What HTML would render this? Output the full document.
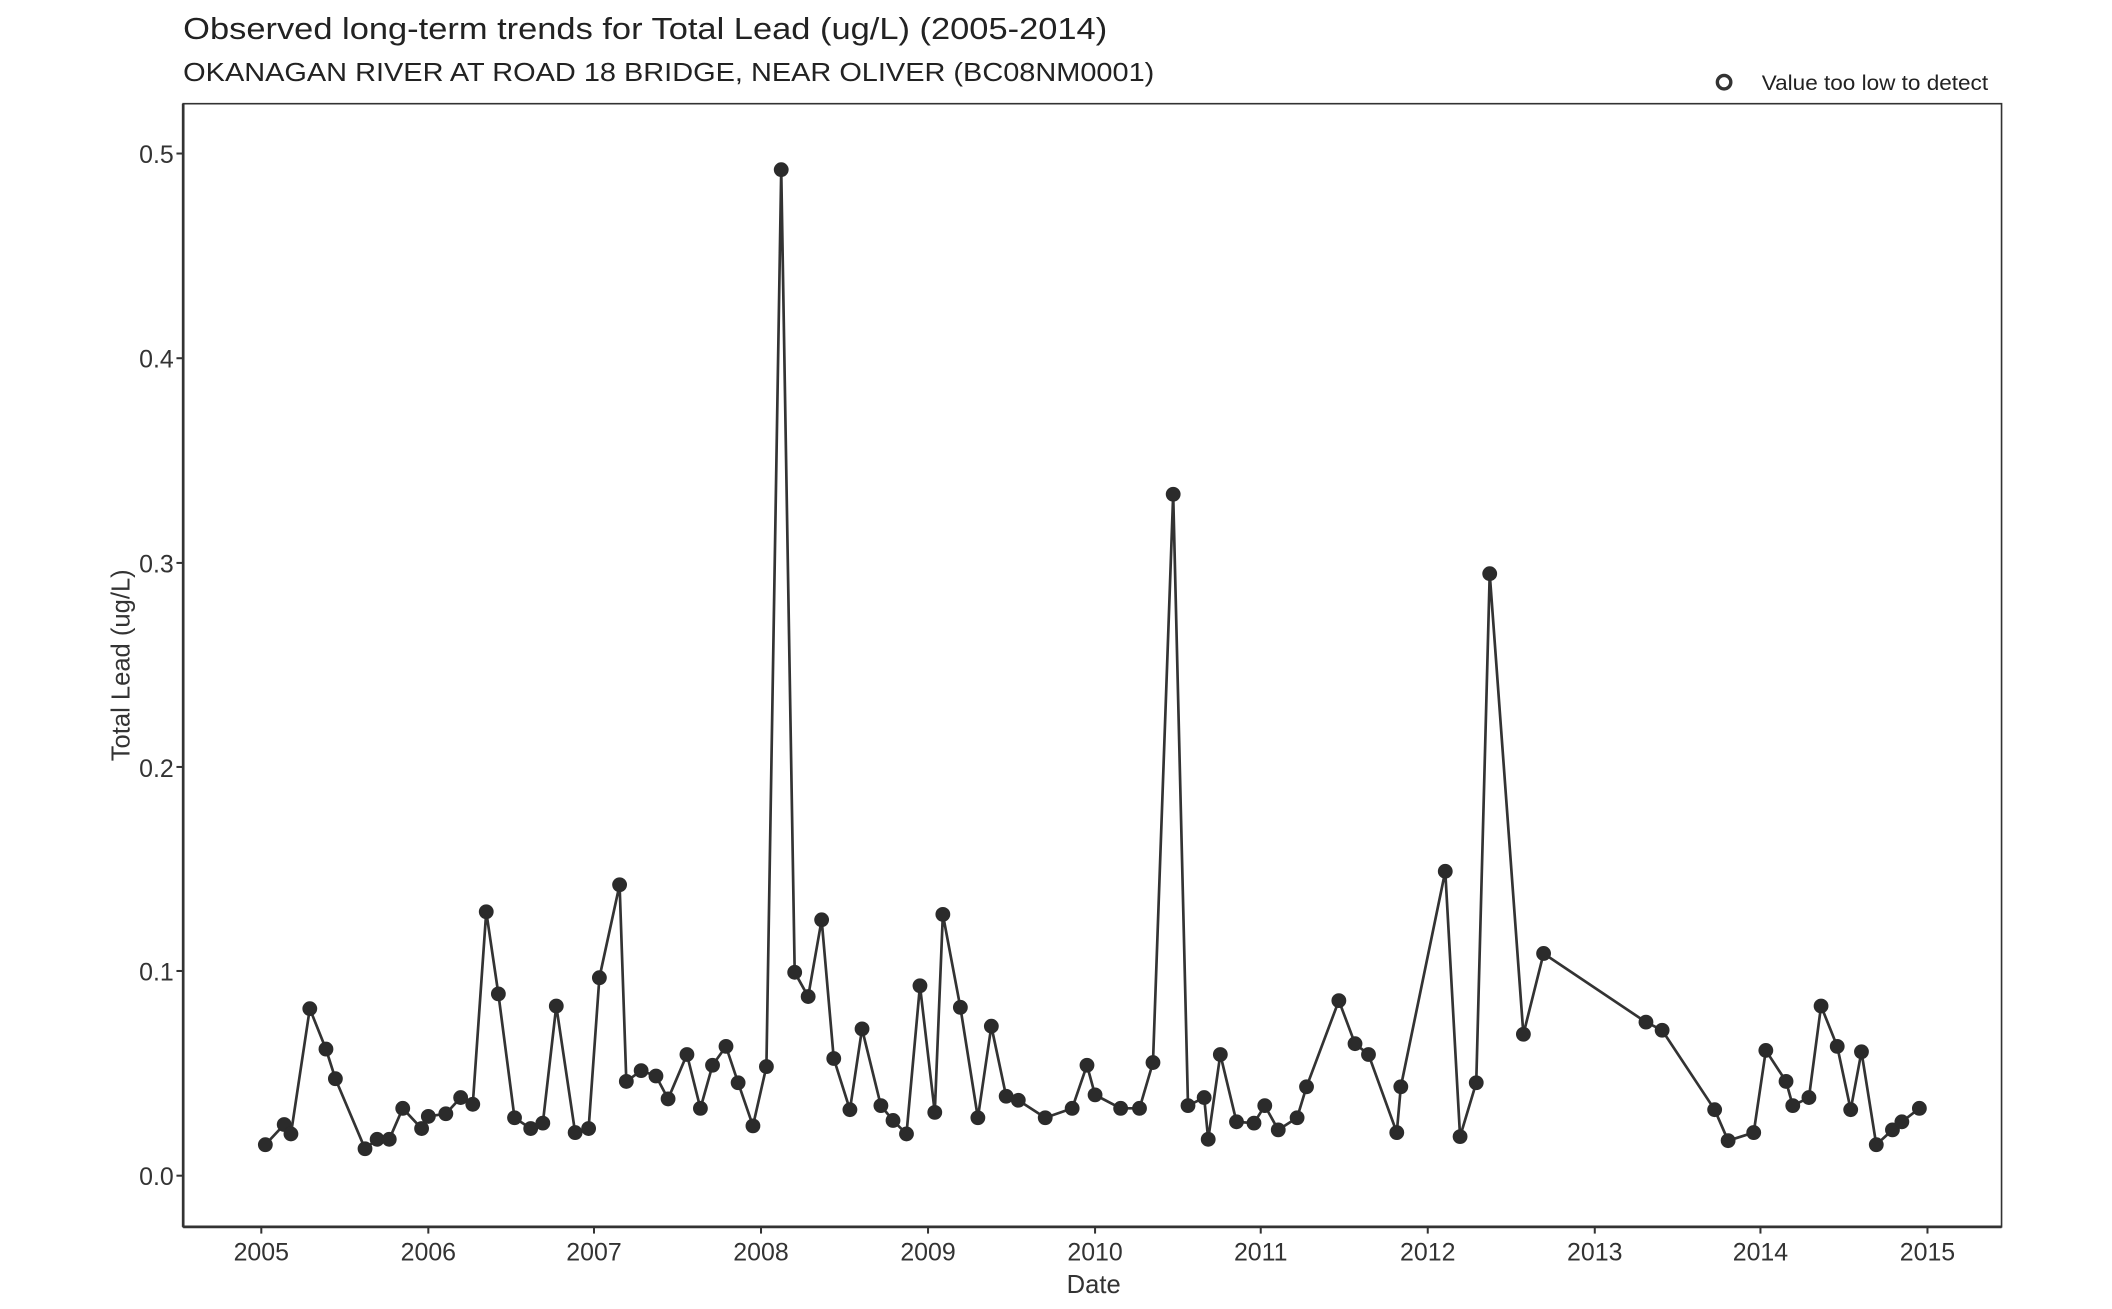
<!DOCTYPE html>
<html><head><meta charset="utf-8"><style>html,body{margin:0;padding:0;background:#fff}svg{display:block}</style></head>
<body>
<svg width="2112" height="1309" viewBox="0 0 1568 972" preserveAspectRatio="none" xmlns="http://www.w3.org/2000/svg" font-family="Liberation Sans, Arial, sans-serif">
<rect width="1568" height="972" fill="#fff"/>
<text x="136" y="29" font-size="23" fill="#222" textLength="686" lengthAdjust="spacingAndGlyphs">Observed long-term trends for Total Lead (ug/L) (2005-2014)</text>
<text x="136" y="60" font-size="19" fill="#222" textLength="721" lengthAdjust="spacingAndGlyphs">OKANAGAN RIVER AT ROAD 18 BRIDGE, NEAR OLIVER (BC08NM0001)</text>
<circle cx="1280" cy="61" r="5" fill="none" stroke="#333" stroke-width="2.5"/>
<text x="1308" y="67" font-size="16" fill="#222" textLength="168" lengthAdjust="spacingAndGlyphs">Value too low to detect</text>
<rect x="136" y="77" width="1350" height="834" fill="none" stroke="#333" stroke-width="1.2"/>
<line x1="136" y1="77" x2="136" y2="911" stroke="#333" stroke-width="2"/>
<line x1="136" y1="911" x2="1486" y2="911" stroke="#333" stroke-width="2"/>
<g stroke="#333" stroke-width="1.5">
<line x1="131" y1="873" x2="136" y2="873"/><line x1="131" y1="721" x2="136" y2="721"/><line x1="131" y1="569.5" x2="136" y2="569.5"/><line x1="131" y1="418" x2="136" y2="418"/><line x1="131" y1="266" x2="136" y2="266"/><line x1="131" y1="114" x2="136" y2="114"/>
</g>
<g font-size="18.5" fill="#333" text-anchor="end">
<text x="129" y="880">0.0</text><text x="129" y="728">0.1</text><text x="129" y="577">0.2</text><text x="129" y="425">0.3</text><text x="129" y="273">0.4</text><text x="129" y="121">0.5</text>
</g>
<g stroke="#333" stroke-width="1.5">
<line x1="194" y1="911" x2="194" y2="916"/><line x1="318" y1="911" x2="318" y2="916"/><line x1="441" y1="911" x2="441" y2="916"/><line x1="565" y1="911" x2="565" y2="916"/><line x1="689" y1="911" x2="689" y2="916"/><line x1="813" y1="911" x2="813" y2="916"/><line x1="936" y1="911" x2="936" y2="916"/><line x1="1060" y1="911" x2="1060" y2="916"/><line x1="1184" y1="911" x2="1184" y2="916"/><line x1="1307" y1="911" x2="1307" y2="916"/><line x1="1431" y1="911" x2="1431" y2="916"/>
</g>
<g font-size="18.5" fill="#333" text-anchor="middle">
<text x="194" y="936">2005</text><text x="318" y="936">2006</text><text x="441" y="936">2007</text><text x="565" y="936">2008</text><text x="689" y="936">2009</text><text x="813" y="936">2010</text><text x="936" y="936">2011</text><text x="1060" y="936">2012</text><text x="1184" y="936">2013</text><text x="1307" y="936">2014</text><text x="1431" y="936">2015</text>
</g>
<text x="812" y="960" font-size="19" fill="#333" text-anchor="middle">Date</text>
<text transform="translate(96,494) rotate(-90)" font-size="19" fill="#333" text-anchor="middle">Total Lead (ug/L)</text>
<polyline fill="none" stroke="#333" stroke-width="2" stroke-linejoin="round" points="197,850 211,835 216,842 230,749 242,779 249,801 271,853 280,846 289,846 299,823 313,838 318,829 331,827 342,815 351,820 361,677 370,738 382,830 394,838 403,834 413,747 427,841 437,838 445,726 460,657 465,803 476,795 487,799 496,816 510,783 520,823 529,791 539,777 548,804 559,836 569,792 580,126 590,722 600,740 610,683 619,786 631,824 640,764 654,821 663,832 673,842 683,732 694,826 700,679 713,748 726,830 736,762 747,814 756,817 776,830 796,823 807,791 813,813 832,823 846,823 856,789 871,367 882,821 894,815 897,846 906,783 918,833 931,834 939,821 949,839 963,830 970,807 994,743 1006,775 1016,783 1037,841 1040,807 1073,647 1084,844 1096,804 1106,426 1131,768 1146,708 1222,759 1234,765 1273,824 1283,847 1302,841 1311,780 1326,803 1331,821 1343,815 1352,747 1364,777 1374,824 1382,781 1393,850 1405,839 1412,833 1425,823"/>
<g fill="#2b2b2b">
<circle cx="197" cy="850" r="5.5"/><circle cx="211" cy="835" r="5.5"/><circle cx="216" cy="842" r="5.5"/><circle cx="230" cy="749" r="5.5"/><circle cx="242" cy="779" r="5.5"/><circle cx="249" cy="801" r="5.5"/><circle cx="271" cy="853" r="5.5"/><circle cx="280" cy="846" r="5.5"/><circle cx="289" cy="846" r="5.5"/><circle cx="299" cy="823" r="5.5"/><circle cx="313" cy="838" r="5.5"/><circle cx="318" cy="829" r="5.5"/><circle cx="331" cy="827" r="5.5"/><circle cx="342" cy="815" r="5.5"/><circle cx="351" cy="820" r="5.5"/><circle cx="361" cy="677" r="5.5"/><circle cx="370" cy="738" r="5.5"/><circle cx="382" cy="830" r="5.5"/><circle cx="394" cy="838" r="5.5"/><circle cx="403" cy="834" r="5.5"/><circle cx="413" cy="747" r="5.5"/><circle cx="427" cy="841" r="5.5"/><circle cx="437" cy="838" r="5.5"/><circle cx="445" cy="726" r="5.5"/><circle cx="460" cy="657" r="5.5"/><circle cx="465" cy="803" r="5.5"/><circle cx="476" cy="795" r="5.5"/><circle cx="487" cy="799" r="5.5"/><circle cx="496" cy="816" r="5.5"/><circle cx="510" cy="783" r="5.5"/><circle cx="520" cy="823" r="5.5"/><circle cx="529" cy="791" r="5.5"/><circle cx="539" cy="777" r="5.5"/><circle cx="548" cy="804" r="5.5"/><circle cx="559" cy="836" r="5.5"/><circle cx="569" cy="792" r="5.5"/><circle cx="580" cy="126" r="5.5"/><circle cx="590" cy="722" r="5.5"/><circle cx="600" cy="740" r="5.5"/><circle cx="610" cy="683" r="5.5"/><circle cx="619" cy="786" r="5.5"/><circle cx="631" cy="824" r="5.5"/><circle cx="640" cy="764" r="5.5"/><circle cx="654" cy="821" r="5.5"/><circle cx="663" cy="832" r="5.5"/><circle cx="673" cy="842" r="5.5"/><circle cx="683" cy="732" r="5.5"/><circle cx="694" cy="826" r="5.5"/><circle cx="700" cy="679" r="5.5"/><circle cx="713" cy="748" r="5.5"/><circle cx="726" cy="830" r="5.5"/><circle cx="736" cy="762" r="5.5"/><circle cx="747" cy="814" r="5.5"/><circle cx="756" cy="817" r="5.5"/><circle cx="776" cy="830" r="5.5"/><circle cx="796" cy="823" r="5.5"/><circle cx="807" cy="791" r="5.5"/><circle cx="813" cy="813" r="5.5"/><circle cx="832" cy="823" r="5.5"/><circle cx="846" cy="823" r="5.5"/><circle cx="856" cy="789" r="5.5"/><circle cx="871" cy="367" r="5.5"/><circle cx="882" cy="821" r="5.5"/><circle cx="894" cy="815" r="5.5"/><circle cx="897" cy="846" r="5.5"/><circle cx="906" cy="783" r="5.5"/><circle cx="918" cy="833" r="5.5"/><circle cx="931" cy="834" r="5.5"/><circle cx="939" cy="821" r="5.5"/><circle cx="949" cy="839" r="5.5"/><circle cx="963" cy="830" r="5.5"/><circle cx="970" cy="807" r="5.5"/><circle cx="994" cy="743" r="5.5"/><circle cx="1006" cy="775" r="5.5"/><circle cx="1016" cy="783" r="5.5"/><circle cx="1037" cy="841" r="5.5"/><circle cx="1040" cy="807" r="5.5"/><circle cx="1073" cy="647" r="5.5"/><circle cx="1084" cy="844" r="5.5"/><circle cx="1096" cy="804" r="5.5"/><circle cx="1106" cy="426" r="5.5"/><circle cx="1131" cy="768" r="5.5"/><circle cx="1146" cy="708" r="5.5"/><circle cx="1222" cy="759" r="5.5"/><circle cx="1234" cy="765" r="5.5"/><circle cx="1273" cy="824" r="5.5"/><circle cx="1283" cy="847" r="5.5"/><circle cx="1302" cy="841" r="5.5"/><circle cx="1311" cy="780" r="5.5"/><circle cx="1326" cy="803" r="5.5"/><circle cx="1331" cy="821" r="5.5"/><circle cx="1343" cy="815" r="5.5"/><circle cx="1352" cy="747" r="5.5"/><circle cx="1364" cy="777" r="5.5"/><circle cx="1374" cy="824" r="5.5"/><circle cx="1382" cy="781" r="5.5"/><circle cx="1393" cy="850" r="5.5"/><circle cx="1405" cy="839" r="5.5"/><circle cx="1412" cy="833" r="5.5"/><circle cx="1425" cy="823" r="5.5"/>
</g>
</svg>
</body></html>
